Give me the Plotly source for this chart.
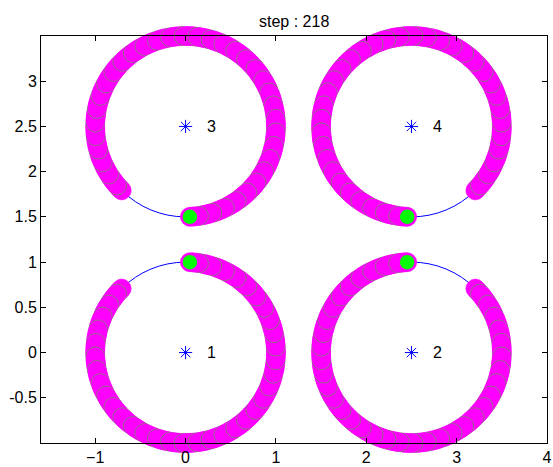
import numpy as np
import plotly.graph_objects as go

# Agents orbiting fixed centres on unit circles
center_x = [0.0, 2.5, 0.0, 2.5]
center_y = [0.0, 0.0, 2.5, 2.5]
agent_labels = ["1", "2", "3", "4"]
radius = 1.0

# Motion of each agent: start angle (deg), direction (+1 ccw, -1 cw)
start_deg = [135.0, 45.0, 225.0, 315.0]
direction = [1, -1, -1, 1]
omega_deg = 1.439          # angular advance per step
step = 218

x_ticks = [-1, 0, 1, 2, 3, 4]
y_ticks = [-0.5, 0, 0.5, 1, 1.5, 2, 2.5, 3]
y_tick_text = ["-0.5", "0", "0.5", "1", "1.5", "2", "2.5", "3"]

MAGENTA = "#ff00ff"
GREEN = "#00ff00"
BLUE = "#0000ff"
FONT = "Liberation Sans, Arial, sans-serif"
FONT_SIZE = 16

fig = go.Figure()

# reference orbits (thin blue circles)
for cx, cy in zip(center_x, center_y):
    fig.add_shape(type="circle", xref="x", yref="y",
                  x0=cx - radius, y0=cy - radius, x1=cx + radius, y1=cy + radius,
                  line=dict(color=BLUE, width=1), layer="below")

# trail of past positions: magenta discs, a few with green rims
cur_x, cur_y = [], []
for cx, cy, a0, d in zip(center_x, center_y, start_deg, direction):
    k = np.arange(step)
    ang = np.deg2rad(a0 + d * omega_deg * k)
    tx = cx + radius * np.cos(ang)
    ty = cy + radius * np.sin(ang)
    rim = np.where(k % 6 == 3, "rgba(60,200,40,0.9)", MAGENTA)
    fig.add_trace(go.Scatter(
        x=tx, y=ty, mode="markers", cliponaxis=False, hoverinfo="skip",
        marker=dict(size=19, color=MAGENTA, line=dict(width=0.6, color=rim)),
        showlegend=False))
    cur_x.append(tx[-1])
    cur_y.append(ty[-1])

# current positions
fig.add_trace(go.Scatter(
    x=cur_x, y=cur_y, mode="markers", cliponaxis=False,
    marker=dict(size=16, color=GREEN, line=dict(color=MAGENTA, width=1.5)),
    showlegend=False))

# centres
fig.add_trace(go.Scatter(
    x=center_x, y=center_y, mode="markers",
    marker=dict(symbol="asterisk-open", size=11, color=BLUE,
                line=dict(color=BLUE, width=1)),
    showlegend=False))

for cx, cy, lab in zip(center_x, center_y, agent_labels):
    fig.add_annotation(x=cx + 0.22, y=cy, text=lab, showarrow=False,
                       xanchor="left", yanchor="middle",
                       font=dict(family=FONT, size=FONT_SIZE, color="black"))

fig.add_annotation(x=0.5, y=1, xref="paper", yref="paper", text="step : " + str(step),
                   showarrow=False, xanchor="center", yanchor="bottom", yshift=4,
                   font=dict(family=FONT, size=FONT_SIZE, color="black"))

axis_common = dict(showline=True, linecolor="black", linewidth=1, mirror="ticks",
                   ticks="inside", ticklen=5, tickcolor="black", showgrid=False,
                   zeroline=False, ticklabeloverflow="allow",
                   tickfont=dict(family=FONT, size=FONT_SIZE, color="black"))

fig.update_layout(
    width=553, height=467,
    margin=dict(l=41, r=1, t=36, b=20),
    paper_bgcolor="white", plot_bgcolor="white",
    xaxis=dict(range=[-1.6, 4], tickvals=x_ticks, **axis_common),
    yaxis=dict(range=[-1, 3.5], tickvals=y_ticks, ticktext=y_tick_text, **axis_common),
)

fig.write_html("out.html")
